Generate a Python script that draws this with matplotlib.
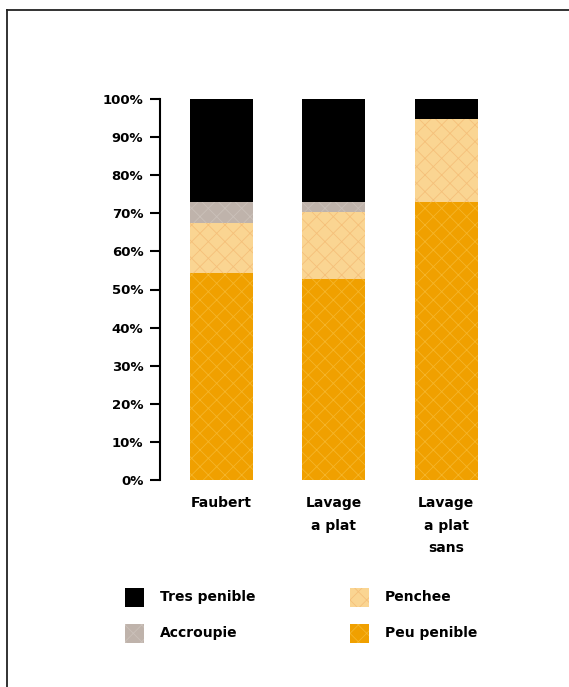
import matplotlib
matplotlib.use("Agg")
import matplotlib.pyplot as plt
from matplotlib.patches import Rectangle
from matplotlib.lines import Line2D
import numpy as np

categories = ["Faubert", "Lavage\na plat", "Lavage\na plat\nsans"]
series_names = ["Peu penible", "Penchee", "Accroupie", "Tres penible"]
peu_penible = [54.3, 52.8, 73.0]
penchee = [13.2, 17.5, 21.8]
accroupie = [5.5, 2.7, 0.0]
tres_penible = [27.0, 27.0, 5.2]
tick_labels = ["0%", "10%", "20%", "30%", "40%", "50%", "60%", "70%", "80%", "90%", "100%"]

colors = {"Peu penible": "#F0A000", "Penchee": "#FAD592",
          "Accroupie": "#BFB3AB", "Tres penible": "#000000"}
hatch_colors = {"Peu penible": "#F5B52A", "Penchee": "#F5C07A",
                "Accroupie": "#CBC1BA", "Tres penible": "#000000"}

plt.rcParams["hatch.linewidth"] = 0.6
W, H = 569, 687
fig = plt.figure(figsize=(W / 100, H / 100), dpi=100)
ax = fig.add_axes([160 / W, (H - 480) / H, 347.5 / W, 381 / H])

x = np.arange(len(categories))
values = [peu_penible, penchee, accroupie, tres_penible]
bottom = np.zeros(len(categories))
for name, vals in zip(series_names, values):
    hatch = None if name == "Tres penible" else "xx"
    ax.bar(x, vals, width=0.56, bottom=bottom, color=colors[name],
           edgecolor=hatch_colors[name], linewidth=0, hatch=hatch)
    bottom += np.array(vals)

ax.set_xlim(-0.547, 2.547)
ax.set_ylim(0, 100)
ax.set_yticks(np.arange(0, 101, 10))
ax.set_yticklabels(tick_labels, fontsize=9.5, fontweight="bold")
ax.tick_params(axis="y", length=7, width=1.5, pad=5)
ax.set_xticks([])
for s in ["top", "right", "bottom"]:
    ax.spines[s].set_visible(False)
ax.spines["left"].set_linewidth(1.5)

for xi, lab in zip(x, categories):
    ax.text(xi, -4.3, lab, ha="center", va="top", fontsize=10,
            fontweight="bold", linespacing=1.75, transform=ax.transData)

# legend
legend_pos = {"Tres penible": (125, 597), "Accroupie": (125, 633),
              "Penchee": (350, 597), "Peu penible": (350, 633)}
for name in ["Tres penible", "Accroupie", "Penchee", "Peu penible"]:
    px, py = legend_pos[name]
    hatch = None if name == "Tres penible" else "xx"
    fig.patches.append(Rectangle((px / W, (H - py - 9.5) / H), 19 / W, 19 / H,
                                 facecolor=colors[name], edgecolor=hatch_colors[name],
                                 linewidth=0, hatch=hatch, transform=fig.transFigure))
    fig.text((px + 35) / W, (H - py) / H, name, ha="left", va="center",
             fontsize=10, fontweight="bold")

# frame border
fig.lines.append(Line2D([7 / W, 1], [(H - 10) / H] * 2, color="#222222",
                        linewidth=1.3, transform=fig.transFigure))
fig.lines.append(Line2D([7 / W] * 2, [0, (H - 10) / H], color="#222222",
                        linewidth=1.3, transform=fig.transFigure))

fig.savefig("out.png", dpi=100)
